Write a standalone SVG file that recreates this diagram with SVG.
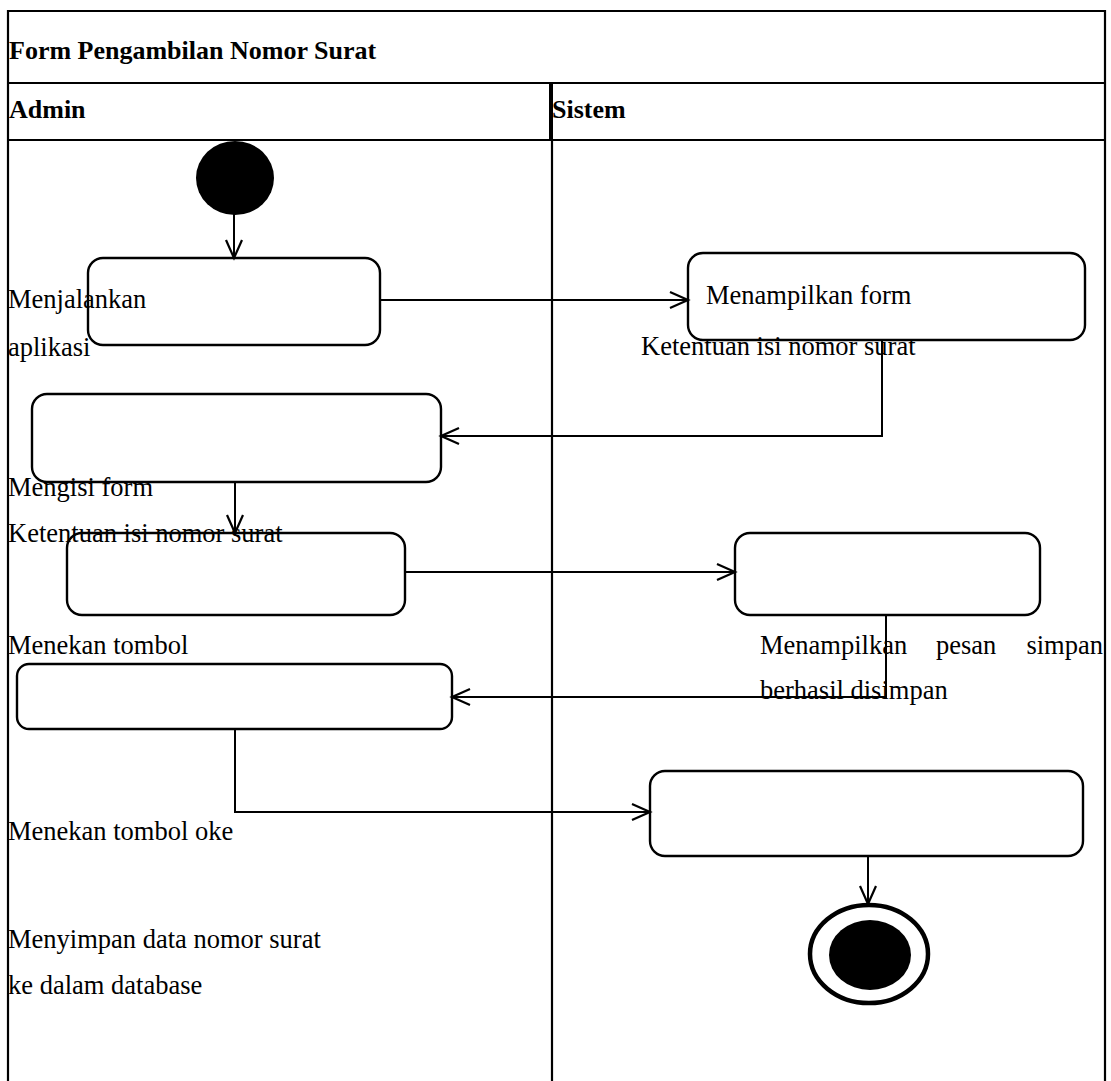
<svg xmlns="http://www.w3.org/2000/svg" width="1111" height="1081" viewBox="0 0 1111 1081">
<style>
.frame{stroke:#000;stroke-width:2.2;fill:none}
.box{fill:#fff;stroke:#000;stroke-width:2.4}
.conn{fill:none;stroke:#000;stroke-width:2}
.t{font-size:26.5px;fill:#000}
.h{font-size:26px;font-weight:bold;fill:#000}
</style>
<defs>
<marker id="arr" viewBox="0 0 22 20" refX="19" refY="10" markerWidth="22" markerHeight="20" markerUnits="userSpaceOnUse" orient="auto">
<path d="M1,2 L19,10 L1,18" fill="none" stroke="#000" stroke-width="2.2"/>
</marker>
</defs>
<rect width="1111" height="1081" fill="#fff"/>
<g id="frame" font-family="Liberation Serif, Times New Roman, serif">
<line class="frame" x1="8" y1="11" x2="1105" y2="11"/>
<line class="frame" x1="8" y1="10" x2="8" y2="1081"/>
<line class="frame" x1="1105" y1="10" x2="1105" y2="1081"/>
<line class="frame" x1="8" y1="83" x2="1105" y2="83"/>
<line class="frame" x1="8" y1="140" x2="1105" y2="140"/>
<line x1="551" y1="83" x2="551" y2="140" stroke="#000" stroke-width="4"/>
<line class="frame" x1="552" y1="140" x2="552" y2="1081"/>
<text class="h" x="9" y="59">Form Pengambilan Nomor Surat</text>
<text class="h" x="9" y="118">Admin</text>
<text class="h" x="552" y="118">Sistem</text>
</g>
<g id="start"><ellipse cx="235" cy="178" rx="39" ry="37" fill="#000"/></g>
<g id="n1"><rect class="box" x="88" y="258" width="292" height="87" rx="15"/></g>
<g id="n2"><rect class="box" x="688" y="253" width="397" height="87" rx="15"/></g>
<g id="n3"><rect class="box" x="32" y="394" width="409" height="88" rx="15"/></g>
<g id="n4"><rect class="box" x="67" y="533" width="338" height="82" rx="15"/></g>
<g id="n5"><rect class="box" x="735" y="533" width="305" height="82" rx="15"/></g>
<g id="n6"><rect class="box" x="17" y="664" width="435" height="65" rx="12"/></g>
<g id="n7"><rect class="box" x="650" y="771" width="433" height="85" rx="15"/></g>
<g id="end">
<ellipse cx="869" cy="954" rx="59" ry="49" fill="#fff" stroke="#000" stroke-width="4.5"/>
<ellipse cx="870" cy="955" rx="41" ry="35" fill="#000"/>
</g>
<g id="connectors">
<line class="conn" x1="234" y1="214" x2="234" y2="258" marker-end="url(#arr)"/>
<line class="conn" x1="380" y1="300" x2="688" y2="300" marker-end="url(#arr)"/>
<polyline class="conn" points="882,340 882,436 441,436" marker-end="url(#arr)"/>
<line class="conn" x1="235" y1="482" x2="235" y2="533" marker-end="url(#arr)"/>
<line class="conn" x1="405" y1="572" x2="735" y2="572" marker-end="url(#arr)"/>
<polyline class="conn" points="886,615 886,697 452,697" marker-end="url(#arr)"/>
<polyline class="conn" points="235,729 235,812 650,812" marker-end="url(#arr)"/>
<line class="conn" x1="868" y1="856" x2="868" y2="904" marker-end="url(#arr)"/>
</g>
<g id="labels" font-family="Liberation Serif, Times New Roman, serif">
<text class="t" x="8" y="308">Menjalankan</text>
<text class="t" x="8" y="356">aplikasi</text>
<text class="t" x="706" y="304">Menampilkan form</text>
<text class="t" x="641" y="355">Ketentuan isi nomor surat</text>
<text class="t" x="8" y="496">Mengisi form</text>
<text class="t" x="8" y="542">Ketentuan isi nomor surat</text>
<text class="t" x="8" y="654">Menekan tombol</text>
<text class="t" x="760" y="654">Menampilkan</text>
<text class="t" x="936" y="654">pesan</text>
<text class="t" x="1103" y="654" text-anchor="end">simpan</text>
<text class="t" x="760" y="699">berhasil disimpan</text>
<text class="t" x="8" y="840">Menekan tombol oke</text>
<text class="t" x="8" y="948">Menyimpan data nomor surat</text>
<text class="t" x="8" y="994">ke dalam database</text>
</g>
</svg>
